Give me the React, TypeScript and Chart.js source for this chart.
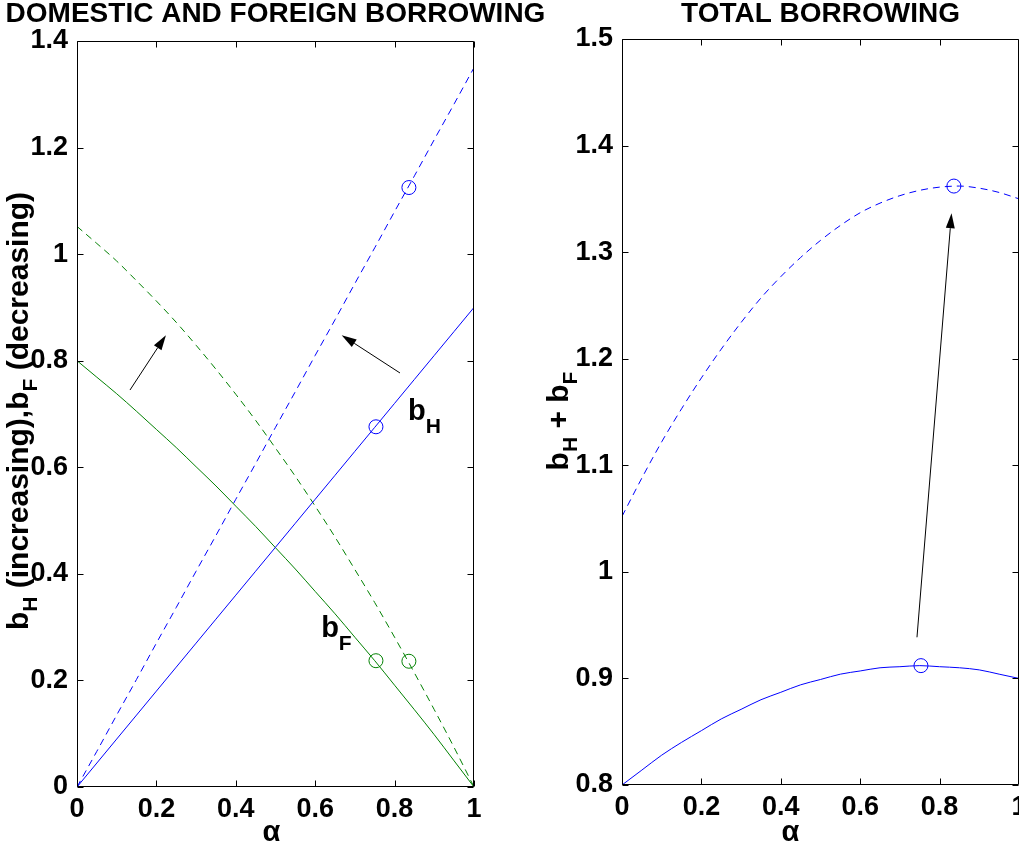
import React, { useEffect, useRef } from "react";
import { Chart, registerables } from "chart.js";

Chart.register(...registerables);

const FAMILY = "'Liberation Sans', Arial, Helvetica, sans-serif";
const BLUE = "#0000ff";
const GREEN = "#008000";

// alpha grid
const ALPHA = [0, 0.05, 0.1, 0.15, 0.2, 0.25, 0.3, 0.35, 0.4, 0.45, 0.5, 0.55, 0.6, 0.65, 0.7, 0.75, 0.8, 0.85, 0.9, 0.95, 1];

// left panel: domestic (b_H) and foreign (b_F) borrowing
const BH_SOLID = [0, 0.045, 0.09, 0.135, 0.18, 0.225, 0.27, 0.315, 0.36, 0.405, 0.45, 0.495, 0.54, 0.585, 0.63, 0.675, 0.72, 0.765, 0.81, 0.855, 0.9];
const BF_SOLID = [0.8, 0.769, 0.738, 0.705, 0.671, 0.637, 0.601, 0.565, 0.527, 0.489, 0.449, 0.409, 0.367, 0.325, 0.281, 0.237, 0.191, 0.145, 0.098, 0.049, 0];
const BH_DASHED = [0, 0.067, 0.135, 0.202, 0.27, 0.337, 0.405, 0.472, 0.54, 0.607, 0.675, 0.742, 0.81, 0.877, 0.945, 1.012, 1.08, 1.147, 1.215, 1.282, 1.35];
const BF_DASHED = [1.052, 1.02, 0.987, 0.95, 0.912, 0.872, 0.829, 0.784, 0.737, 0.688, 0.636, 0.583, 0.527, 0.469, 0.408, 0.346, 0.281, 0.214, 0.145, 0.074, 0];

// right panel: total borrowing
const TOTAL_SOLID = [0.8, 0.814, 0.828, 0.84, 0.851, 0.862, 0.871, 0.88, 0.887, 0.894, 0.899, 0.904, 0.907, 0.91, 0.911, 0.912, 0.911, 0.91, 0.908, 0.904, 0.9];
const TOTAL_DASHED = [1.052, 1.088, 1.122, 1.153, 1.182, 1.209, 1.234, 1.257, 1.277, 1.295, 1.311, 1.325, 1.337, 1.346, 1.353, 1.358, 1.361, 1.362, 1.36, 1.356, 1.35];

// circle markers (solid case, dashed case)
const MARKER_ALPHA = [0.753, 0.836];
const MARKER_BH = [0.676, 1.125];
const MARKER_BF = [0.237, 0.236];
const MARKER_TOTAL = [0.912, 1.362];

// ticks
const X_TICKS = [0, 0.2, 0.4, 0.6, 0.8, 1];
const LEFT_Y_TICKS = [0, 0.2, 0.4, 0.6, 0.8, 1, 1.2, 1.4];
const RIGHT_Y_TICKS = [0.8, 0.9, 1, 1.1, 1.2, 1.3, 1.4, 1.5];

// arrows [fromAlpha, fromValue, toAlpha, toValue]
const LEFT_ARROWS = [
  [0.1335, 0.745, 0.224, 0.848],
  [0.8136, 0.777, 0.6667, 0.848],
];
const RIGHT_ARROWS = [[0.743, 0.9386, 0.83, 1.3365]];

// in-plot text labels [alpha, value] of the left baseline point
const LABEL_BH_AT = [0.834, 0.689];
const LABEL_BF_AT = [0.615, 0.281];

type Seg = { t: string; sub?: boolean };

function drawRich(ctx: CanvasRenderingContext2D, segs: Seg[], x: number, y: number, main: number, sub: number, off: number, center: boolean) {
  const fm = `bold ${main}px ${FAMILY}`;
  const fs = `bold ${sub}px ${FAMILY}`;
  let total = 0;
  const widths = segs.map((s) => {
    ctx.font = s.sub ? fs : fm;
    const w = ctx.measureText(s.t).width;
    total += w;
    return w;
  });
  let cx = center ? x - total / 2 : x;
  ctx.textAlign = "left";
  ctx.textBaseline = "alphabetic";
  segs.forEach((s, i) => {
    ctx.font = s.sub ? fs : fm;
    ctx.fillText(s.t, cx, s.sub ? y + off : y);
    cx += widths[i];
  });
}

function drawArrow(ctx: CanvasRenderingContext2D, x1: number, y1: number, x2: number, y2: number) {
  const ang = Math.atan2(y2 - y1, x2 - x1);
  const L = 15;
  const W = 4.5;
  const bx = x2 - L * Math.cos(ang);
  const by = y2 - L * Math.sin(ang);
  ctx.strokeStyle = "#000";
  ctx.lineWidth = 1;
  ctx.beginPath();
  ctx.moveTo(x1, y1);
  ctx.lineTo(bx, by);
  ctx.stroke();
  ctx.fillStyle = "#000";
  ctx.beginPath();
  ctx.moveTo(x2, y2);
  ctx.lineTo(bx + W * Math.sin(ang), by - W * Math.cos(ang));
  ctx.lineTo(bx - W * Math.sin(ang), by + W * Math.cos(ang));
  ctx.closePath();
  ctx.fill();
}

type Decor = {
  title: string;
  titleY: number;
  xLabelShift: number;
  xLabelY: number;
  yLabel: Seg[];
  yLabelX: number;
  yLabelCenterShift: number;
  arrows: number[][];
  texts: { segs: Seg[]; at: number[] }[];
};

function decorPlugin(d: Decor) {
  return {
    id: "decor",
    afterDraw(chart: any) {
      const ctx: CanvasRenderingContext2D = chart.ctx;
      const a = chart.chartArea;
      const xs = chart.scales.x;
      const ys = chart.scales.y;
      ctx.save();
      // frame
      ctx.strokeStyle = "#000";
      ctx.lineWidth = 1;
      const L = Math.round(a.left) + 0.5;
      const R = Math.round(a.right) - 0.5;
      const T = Math.round(a.top) + 0.5;
      const B = Math.round(a.bottom) - 0.5;
      ctx.beginPath();
      ctx.rect(L, T, R - L, B - T);
      ctx.stroke();
      // inward ticks
      const tl = 6;
      ctx.beginPath();
      xs.ticks.forEach((t: any) => {
        const px = Math.round(xs.getPixelForValue(t.value)) + 0.5;
        ctx.moveTo(px, B);
        ctx.lineTo(px, B - tl);
        ctx.moveTo(px, T);
        ctx.lineTo(px, T + tl);
      });
      ys.ticks.forEach((t: any) => {
        const py = Math.round(ys.getPixelForValue(t.value)) + 0.5;
        ctx.moveTo(L, py);
        ctx.lineTo(L + tl, py);
        ctx.moveTo(R, py);
        ctx.lineTo(R - tl, py);
      });
      ctx.stroke();
      // arrows
      d.arrows.forEach((ar) => {
        drawArrow(ctx, xs.getPixelForValue(ar[0]), ys.getPixelForValue(ar[1]), xs.getPixelForValue(ar[2]), ys.getPixelForValue(ar[3]));
      });
      // in-plot labels
      ctx.fillStyle = "#000";
      d.texts.forEach((tx) => {
        drawRich(ctx, tx.segs, xs.getPixelForValue(tx.at[0]), ys.getPixelForValue(tx.at[1]), 29, 21, 13, false);
      });
      // title
      const cxm = (a.left + a.right) / 2;
      ctx.font = `bold 28px ${FAMILY}`;
      ctx.textAlign = "center";
      ctx.textBaseline = "alphabetic";
      ctx.fillText(d.title, cxm, d.titleY);
      // x label
      ctx.font = `bold 29px ${FAMILY}`;
      ctx.fillText("\u03b1", cxm + d.xLabelShift, d.xLabelY);
      // y label (rotated)
      ctx.translate(d.yLabelX, (a.top + a.bottom) / 2 + d.yLabelCenterShift);
      ctx.rotate(-Math.PI / 2);
      drawRich(ctx, d.yLabel, 0, 0, 30, 21, 9, true);
      ctx.restore();
    },
  };
}

function pts(ys: number[]) {
  return ALPHA.map((x, i) => ({ x, y: ys[i] }));
}

function lineDs(data: number[], color: string, dashed: boolean) {
  return {
    data: pts(data),
    borderColor: color,
    borderWidth: 1,
    borderDash: dashed ? [7, 5] : [],
    pointRadius: 0,
    fill: false,
    cubicInterpolationMode: "monotone" as const,
  };
}

function markerDs(x: number, y: number, color: string) {
  return {
    data: [{ x, y }],
    showLine: false,
    pointRadius: 7,
    pointStyle: "circle",
    pointBackgroundColor: "rgba(0,0,0,0)",
    pointBorderColor: color,
    pointBorderWidth: 1,
  };
}

function baseOptions(yMin: number, yMax: number, yTicks: number[]) {
  const tickFont = { family: FAMILY, size: 27, weight: "bold" as const };
  return {
    responsive: false,
    animation: false as const,
    devicePixelRatio: 1,
    events: [],
    layout: { padding: { top: 41, right: 71, bottom: 0, left: 0 } },
    plugins: { legend: { display: false }, tooltip: { enabled: false }, title: { display: false } },
    scales: {
      x: {
        type: "linear" as const,
        min: 0,
        max: 1,
        grid: { display: false, drawTicks: false },
        border: { display: false },
        afterBuildTicks: (s: any) => {
          s.ticks = X_TICKS.map((v) => ({ value: v }));
        },
        afterFit: (s: any) => {
          s.height = 59;
        },
        ticks: { color: "#000", font: tickFont, padding: 6, maxRotation: 0, autoSkip: false, callback: (v: any) => String(v) },
      },
      y: {
        type: "linear" as const,
        min: yMin,
        max: yMax,
        grid: { display: false, drawTicks: false },
        border: { display: false },
        afterBuildTicks: (s: any) => {
          s.ticks = yTicks.map((v) => ({ value: v }));
        },
        afterFit: (s: any) => {
          s.width = 77;
        },
        ticks: { color: "#000", font: tickFont, padding: 9, autoSkip: false, callback: (v: any) => String(v) },
      },
    },
  };
}

export default function App() {
  const leftRef = useRef<HTMLCanvasElement>(null);
  const rightRef = useRef<HTMLCanvasElement>(null);

  useEffect(() => {
    const left = new Chart(leftRef.current as HTMLCanvasElement, {
      type: "line",
      data: {
        datasets: [
          lineDs(BH_SOLID, BLUE, false),
          lineDs(BF_SOLID, GREEN, false),
          lineDs(BH_DASHED, BLUE, true),
          lineDs(BF_DASHED, GREEN, true),
          markerDs(MARKER_ALPHA[0], MARKER_BH[0], BLUE),
          markerDs(MARKER_ALPHA[0], MARKER_BF[0], GREEN),
          markerDs(MARKER_ALPHA[1], MARKER_BH[1], BLUE),
          markerDs(MARKER_ALPHA[1], MARKER_BF[1], GREEN),
        ] as any,
      },
      options: baseOptions(0, 1.4, LEFT_Y_TICKS) as any,
      plugins: [
        decorPlugin({
          title: "DOMESTIC AND FOREIGN BORROWING",
          titleY: 22,
          xLabelShift: -4,
          xLabelY: 841,
          yLabel: [{ t: "b" }, { t: "H", sub: true }, { t: " (increasing),b" }, { t: "F", sub: true }, { t: " (decreasing)" }],
          yLabelX: 28,
          yLabelCenterShift: -3,
          arrows: LEFT_ARROWS,
          texts: [
            { segs: [{ t: "b" }, { t: "H", sub: true }], at: LABEL_BH_AT },
            { segs: [{ t: "b" }, { t: "F", sub: true }], at: LABEL_BF_AT },
          ],
        }),
      ],
    });

    const right = new Chart(rightRef.current as HTMLCanvasElement, {
      type: "line",
      data: {
        datasets: [
          lineDs(TOTAL_SOLID, BLUE, false),
          lineDs(TOTAL_DASHED, BLUE, true),
          markerDs(MARKER_ALPHA[0], MARKER_TOTAL[0], BLUE),
          markerDs(MARKER_ALPHA[1], MARKER_TOTAL[1], BLUE),
        ] as any,
      },
      options: baseOptions(0.8, 1.5, RIGHT_Y_TICKS) as any,
      plugins: [
        decorPlugin({
          title: "TOTAL BORROWING",
          titleY: 24,
          xLabelShift: -30,
          xLabelY: 843,
          yLabel: [{ t: "b" }, { t: "H", sub: true }, { t: " + b" }, { t: "F", sub: true }],
          yLabelX: 23,
          yLabelCenterShift: 9,
          arrows: RIGHT_ARROWS,
          texts: [],
        }),
      ],
    });

    return () => {
      left.destroy();
      right.destroy();
    };
  }, []);

  return (
    <div style={{ position: "fixed", left: 0, top: 0, width: 1019, height: 846, overflow: "hidden", background: "#fff" }}>
      <canvas ref={leftRef} width={545} height={846} style={{ position: "absolute", left: 0, top: 0, width: 545, height: 846 }} />
      <canvas ref={rightRef} width={545} height={846} style={{ position: "absolute", left: 545, top: -2, width: 545, height: 846 }} />
    </div>
  );
}
